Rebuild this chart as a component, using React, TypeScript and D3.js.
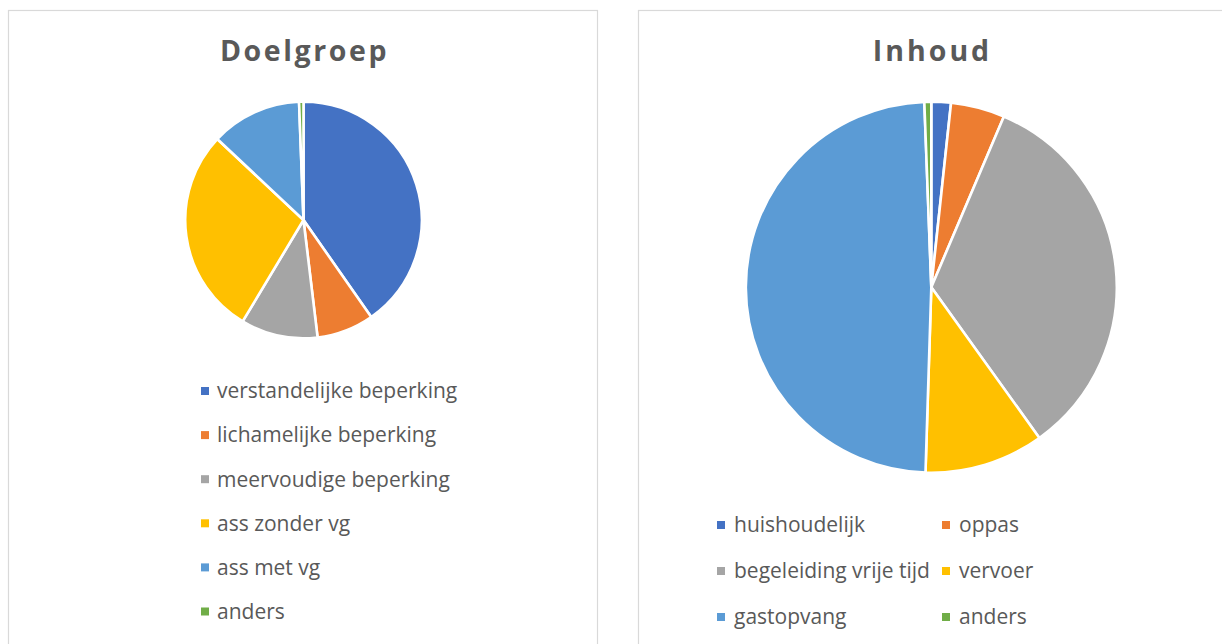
import React from "react";
import * as d3 from "d3";

const doelCategories = [
  "verstandelijke beperking",
  "lichamelijke beperking",
  "meervoudige beperking",
  "ass zonder vg",
  "ass met vg",
  "anders",
];
const doelValues = [40.3, 7.8, 10.5, 28.4, 12.4, 0.6];

const inhoudCategories = [
  "huishoudelijk",
  "oppas",
  "begeleiding vrije tijd",
  "vervoer",
  "gastopvang",
  "anders",
];
const inhoudValues = [1.7, 4.7, 33.7, 10.4, 48.9, 0.6];

const colors = ["#4472C4", "#ED7D31", "#A5A5A5", "#FFC000", "#5B9BD5", "#70AD47"];

const FONT = "'Open Sans', 'Noto Sans', sans-serif";
const TEXT = "#595959";

function Pie({ values, cx, cy, r }: { values: number[]; cx: number; cy: number; r: number }) {
  const pie = d3.pie<number>().sort(null).value((d) => d);
  const arc = d3.arc<d3.PieArcDatum<number>>().innerRadius(0).outerRadius(r);
  const arcs = pie(values);
  return (
    <g transform={`translate(${cx},${cy})`}>
      {arcs.map((a, i) => (
        <path key={i} d={arc(a) || ""} fill={colors[i]} stroke="#fff" strokeWidth={2.6} strokeLinejoin="round" />
      ))}
    </g>
  );
}

export default function App() {
  return (
    <svg
      width={1222}
      height={644}
      style={{ position: "absolute", left: 0, top: 0, background: "#fff" }}
    >
      <rect x={0} y={0} width={1222} height={644} fill="#fff" />
      {/* Panels */}
      <rect x={8.5} y={10.5} width={589} height={700} fill="#fff" stroke="#D9D9D9" strokeWidth={1.2} />
      <rect x={638.5} y={10.5} width={620} height={700} fill="#fff" stroke="#D9D9D9" strokeWidth={1.2} />

      {/* Titles */}
      <text x={304.5} y={61} textAnchor="middle" fontFamily={FONT} fontWeight={700} fontSize={28.5} letterSpacing={2.6} fill={TEXT}>
        Doelgroep
      </text>
      <text x={932.5} y={61} textAnchor="middle" fontFamily={FONT} fontWeight={700} fontSize={28.5} letterSpacing={3} fill={TEXT}>
        Inhoud
      </text>

      <Pie values={doelValues} cx={303.5} cy={220} r={118.3} />
      <Pie values={inhoudValues} cx={931.3} cy={287.2} r={185.5} />

      {/* Left legend */}
      {doelCategories.map((c, i) => {
        const y = 391 + i * 44.1;
        return (
          <g key={c}>
            <rect x={201} y={y - 4} width={8} height={8} fill={colors[i]} />
            <text x={217} y={y} dy="0.35em" fontFamily={FONT} fontSize={21} fill={TEXT}>
              {c}
            </text>
          </g>
        );
      })}

      {/* Right legend */}
      {inhoudCategories.map((c, i) => {
        const col = i % 2;
        const row = Math.floor(i / 2);
        const y = 525 + row * 46;
        const mx = col === 0 ? 717 : 942;
        return (
          <g key={c}>
            <rect x={mx} y={y - 4} width={8} height={8} fill={colors[i]} />
            <text x={mx + 17} y={y} dy="0.35em" fontFamily={FONT} fontSize={21} fill={TEXT}>
              {c}
            </text>
          </g>
        );
      })}
    </svg>
  );
}
